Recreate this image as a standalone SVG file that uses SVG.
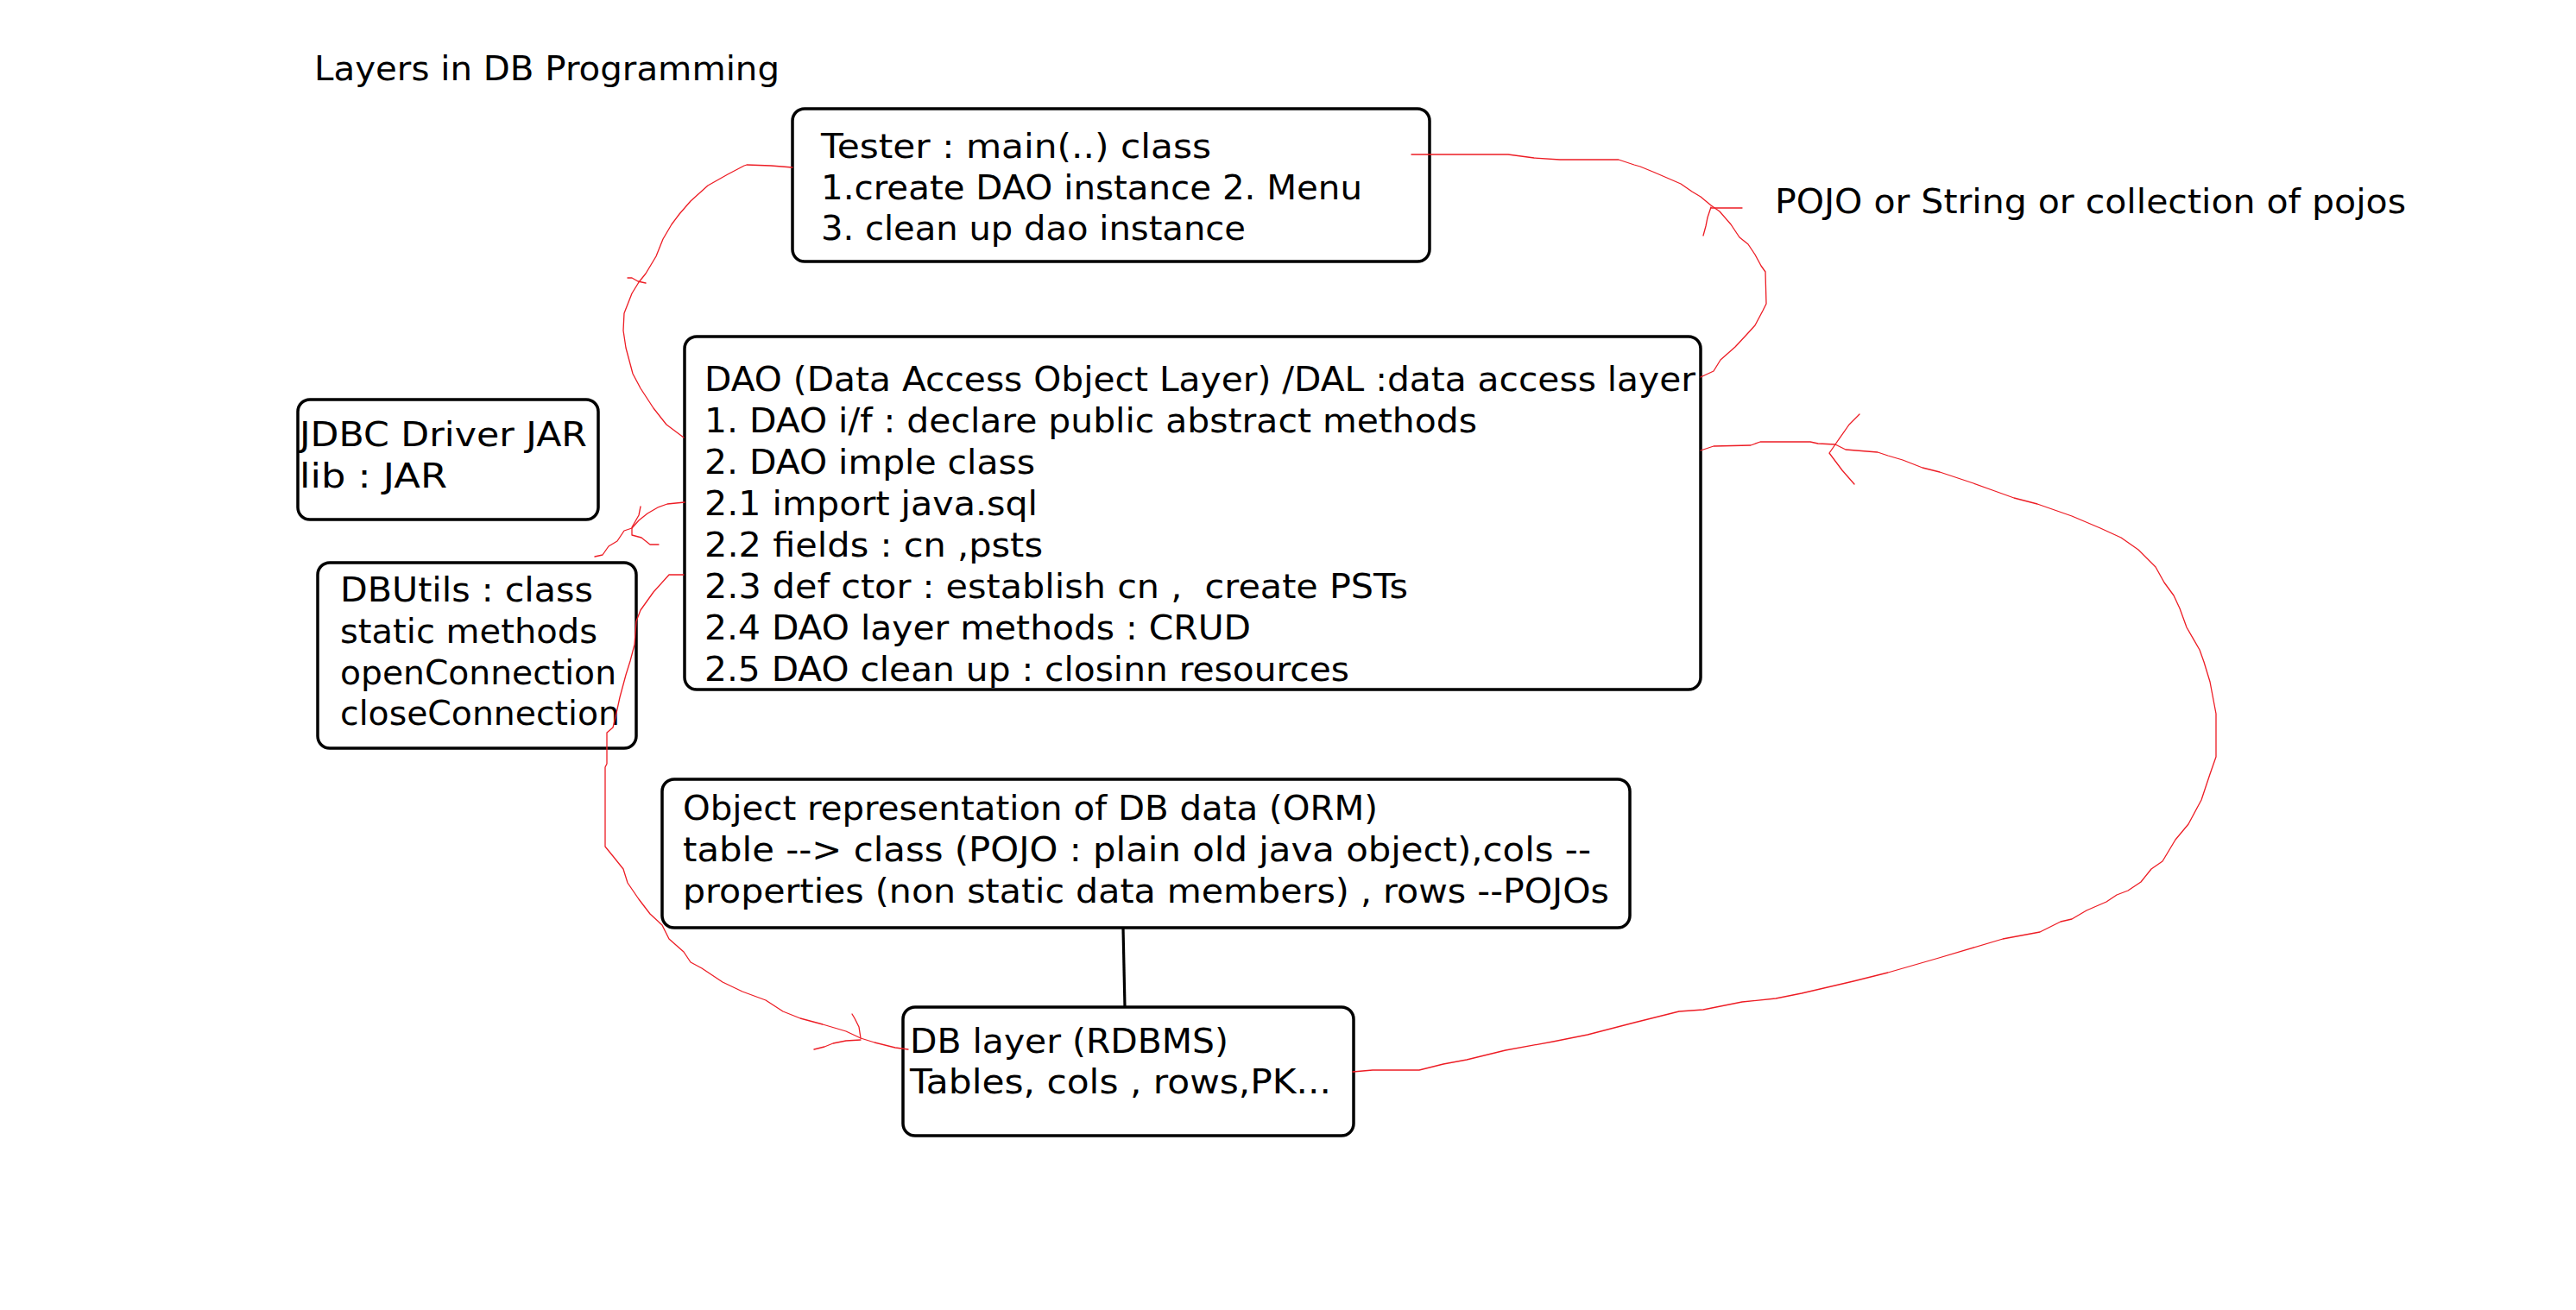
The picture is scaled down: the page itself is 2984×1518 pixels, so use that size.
<svg xmlns="http://www.w3.org/2000/svg" width="2984" height="1518" viewBox="0 0 2984 1518">
<style>
  .bg { fill: #ffffff; }
  .box { fill: #ffffff; stroke: #000000; stroke-width: 3.5; }
  .t { font-family: "DejaVu Sans", Verdana, "Liberation Sans", sans-serif; font-size: 39px; fill: #000000; }
  .red { fill: none; stroke: #ed1c24; stroke-width: 1.3; stroke-linejoin: round; stroke-linecap: round; }
  .blk { fill: none; stroke: #000000; stroke-width: 3.2; }
</style>
<rect class="bg" x="0" y="0" width="2984" height="1518"/>

<g id="title">
  <text class="t" x="364" y="93" textLength="539" lengthAdjust="spacingAndGlyphs">Layers in DB Programming</text>
</g>

<g id="tester">
  <rect class="box" x="918" y="126" width="738" height="177" rx="14"/>
  <text class="t" x="951" y="183" textLength="452" lengthAdjust="spacingAndGlyphs">Tester : main(..) class</text>
  <text class="t" x="951" y="231" textLength="627" lengthAdjust="spacingAndGlyphs">1.create DAO instance 2. Menu</text>
  <text class="t" x="951" y="278" textLength="492" lengthAdjust="spacingAndGlyphs">3. clean up dao instance</text>
</g>

<g id="dao">
  <rect class="box" x="793" y="390" width="1177" height="409" rx="14"/>
  <text class="t" x="816" y="453" textLength="1148" lengthAdjust="spacingAndGlyphs">DAO (Data Access Object Layer) /DAL :data access layer</text>
  <text class="t" x="816" y="501" textLength="895" lengthAdjust="spacingAndGlyphs">1. DAO i/f : declare public abstract methods</text>
  <text class="t" x="816" y="549" textLength="383" lengthAdjust="spacingAndGlyphs">2. DAO imple class</text>
  <text class="t" x="816" y="597" textLength="386" lengthAdjust="spacingAndGlyphs">2.1 import java.sql</text>
  <text class="t" x="816" y="645" textLength="392" lengthAdjust="spacingAndGlyphs">2.2 fields : cn ,psts</text>
  <text class="t" x="816" y="693" textLength="815" lengthAdjust="spacingAndGlyphs" xml:space="preserve">2.3 def ctor : establish cn ,  create PSTs</text>
  <text class="t" x="816" y="741" textLength="633" lengthAdjust="spacingAndGlyphs">2.4 DAO layer methods : CRUD</text>
  <text class="t" x="816" y="789" textLength="747" lengthAdjust="spacingAndGlyphs">2.5 DAO clean up : closinn resources</text>
</g>

<g id="jdbc">
  <rect class="box" x="345" y="463" width="348" height="139" rx="14"/>
  <text class="t" x="347" y="517" textLength="333" lengthAdjust="spacingAndGlyphs">JDBC Driver JAR</text>
  <text class="t" x="347" y="565" textLength="171" lengthAdjust="spacingAndGlyphs">lib : JAR</text>
</g>

<g id="dbutils">
  <rect class="box" x="368" y="652" width="369" height="215" rx="14"/>
  <text class="t" x="394" y="697" textLength="293" lengthAdjust="spacingAndGlyphs">DBUtils : class</text>
  <text class="t" x="394" y="745" textLength="298" lengthAdjust="spacingAndGlyphs">static methods</text>
  <text class="t" x="394" y="793" textLength="320" lengthAdjust="spacingAndGlyphs">openConnection</text>
  <text class="t" x="394" y="840" textLength="324" lengthAdjust="spacingAndGlyphs">closeConnection</text>
</g>

<g id="orm">
  <rect class="box" x="767" y="903" width="1121" height="172" rx="14"/>
  <text class="t" x="791" y="950" textLength="805" lengthAdjust="spacingAndGlyphs">Object representation of DB data (ORM)</text>
  <text class="t" x="791" y="998" textLength="1052" lengthAdjust="spacingAndGlyphs">table --&gt; class (POJO : plain old java object),cols --</text>
  <text class="t" x="791" y="1046" textLength="1073" lengthAdjust="spacingAndGlyphs">properties (non static data members) , rows --POJOs</text>
</g>

<g id="db">
  <rect class="box" x="1046" y="1167" width="522" height="149" rx="14"/>
  <text class="t" x="1054" y="1220" textLength="369" lengthAdjust="spacingAndGlyphs">DB layer (RDBMS)</text>
  <text class="t" x="1054" y="1267" textLength="488" lengthAdjust="spacingAndGlyphs">Tables, cols , rows,PK...</text>
</g>

<g id="connectors">
  <!-- ORM to DB -->
  <path class="blk" d="M1301,1075 L1303,1167"/>
  <!-- Tester left to DAO left -->
  <path class="red" d="M918,194 L893,192 L865,191 L862,192 L843,202 L820,215 L800,233 L787,248 L778,260 L768,277 L760,297 L748,317 L740,327 L732,340 L723,363 L722,383 L725,403 L733,433 L742,450 L757,473 L772,492 L792,507"/>
  <path class="red" d="M727,322 L732,322 L739,326 L748,328"/>
  <!-- Tester right to DAO right -->
  <path class="red" d="M1635,179 L1747,179 L1777,183 L1807,185 L1875,185 L1893,191 L1900,193 L1917,200 L1947,213 L1960,222 L1970,228 L1982,238 L1992,245 L2005,260 L2015,275 L2025,283 L2033,295 L2040,308 L2045,315 L2046,352 L2042,360 L2033,377 L2023,388 L2010,402 L1993,417 L1985,430 L1970,437"/>
  <path class="red" d="M1982,241 L2018,241 M1982,240 L1978,252 L1976,262 L1973,273"/>
  <!-- DB right to DAO right -->
  <path class="red" d="M1567,1242 L1590,1240 L1644,1240 L1672,1233 L1699,1228 L1744,1217 L1799,1207 L1839,1199 L1893,1185 L1945,1172 L1973,1170 L2018,1161 L2057,1157 L2087,1151 L2147,1137 L2187,1127 L2246,1110 L2320,1088 L2363,1080 L2387,1068 L2400,1065 L2417,1055 L2440,1045 L2452,1037 L2465,1032 L2480,1022 L2492,1007 L2505,998 L2520,973 L2535,955 L2550,927 L2560,897 L2567,877 L2567,827 L2560,790 L2553,767 L2548,753 L2533,727 L2525,705 L2518,690 L2507,675 L2497,657 L2487,647 L2477,637 L2457,623 L2433,612 L2400,598 L2360,584 L2333,577 L2308,568 L2286,560 L2247,547 L2227,542 L2204,533 L2187,528 L2175,524 L2138,521 L2126,515 L2106,514 L2097,512 L2039,512 L2028,516 L1985,517 L1970,522"/>
  <path class="red" d="M2126,515 L2128,512 L2142,492 L2154,480 M2126,515 L2119,525 L2134,545 L2148,561"/>
  <!-- DAO left (2.3) to DB left -->
  <path class="red" d="M792,666 L775,666 L757,686 L742,707 L737,720 L735,747 L730,766 L725,782 L718,808 L713,831 L710,843 L703,849 L703,885 L701,889 L701,981 L710,992 L722,1007 L727,1023 L740,1042 L753,1059 L767,1072 L775,1088 L792,1103 L800,1115 L813,1122 L837,1138 L860,1149 L887,1159 L907,1172 L927,1180 L953,1187 L980,1195 L997,1203 L1013,1208 L1037,1214 L1052,1216"/>
  <path class="red" d="M997,1203 L995,1190 L990,1180 L987,1175 M997,1205 L980,1206 L965,1209 L955,1213 L943,1216"/>
  <!-- DAO left (2.1) towards DBUtils -->
  <path class="red" d="M793,582 L773,584 L762,588 L750,595 L740,603 L732,612 L723,615 L715,627 L705,633 L698,643 L689,645"/>
  <path class="red" d="M732,611 L740,597 L742,587 M732,611 L732,620 L743,623 L753,631 L763,631"/>
</g>

<g id="label-pojo">
  <text class="t" x="2056" y="247" textLength="731" lengthAdjust="spacingAndGlyphs">POJO or String or collection of pojos</text>
</g>
</svg>
